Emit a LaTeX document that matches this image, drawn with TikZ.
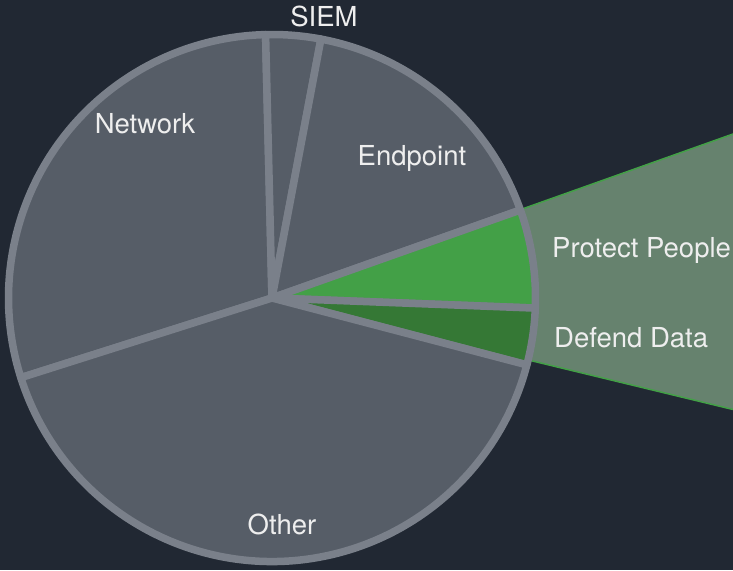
\documentclass[tikz,border=0pt]{standalone}
\usepackage{fontspec}
\setmainfont{TeX Gyre Heros}
\definecolor{bgdark}{HTML}{212833}
\definecolor{slicegray}{HTML}{565D67}
\definecolor{rimgray}{HTML}{7A808A}
\definecolor{peoplegreen}{HTML}{43A047}
\definecolor{datagreen}{HTML}{357835}
\definecolor{calloutfill}{HTML}{66826E}
\definecolor{labeltext}{HTML}{EEEEEE}
\tikzset{
  slice/.style={draw=rimgray, line width=7.5pt, line join=round},
  lbl/.style={text=labeltext, font=\fontsize{27.5}{30}\selectfont, inner sep=0pt, anchor=base},
}
\newcommand{\pieslice}[4]{% fill colour, start angle, end angle, radius
  \filldraw[slice, fill=#1] (pc) -- ++(#2:#4) arc[start angle=#2, end angle=#3, radius=#4] -- cycle;}
\begin{document}
\begin{tikzpicture}[x=1pt, y=1pt]
  \fill[bgdark] (0,0) rectangle (733,570);
  \useasboundingbox (0,0) rectangle (733,570);
  \coordinate (pc) at (272,272);
  \coordinate (ctop) at (733,436);
  \coordinate (cbot) at (733,160.5);
  % callout wedge that opens out from the two green slices
  \fill[calloutfill] (pc) -- (ctop) -- (cbot) -- cycle;
  \draw[peoplegreen, line width=1.5pt] (pc) -- (ctop);
  \draw[peoplegreen, line width=1.5pt] (pc) -- (cbot);
  % pie slices
  \def\R{263.5}
  \pieslice{slicegray}{91.4}{197.6}{\R}
  \pieslice{slicegray}{79.3}{91.4}{\R}
  \pieslice{slicegray}{19.5}{79.3}{\R}
  \pieslice{peoplegreen}{-2.2}{19.5}{\R}
  \pieslice{datagreen}{-14.7}{-2.2}{\R}
  \pieslice{slicegray}{197.6}{345.3}{\R}
  % labels
  \node[lbl] (siem) at (324,543) {SIEM};
  \node[lbl] (network) at (145,436) {Network};
  \node[lbl] (endpoint) at (412,404) {Endpoint};
  \node[lbl, anchor=base west] (people) at (552,312) {Protect People};
  \node[lbl, anchor=base west] (data) at (554,222) {Defend Data};
  \node[lbl] (other) at (282,36) {Other};
\end{tikzpicture}
\end{document}
